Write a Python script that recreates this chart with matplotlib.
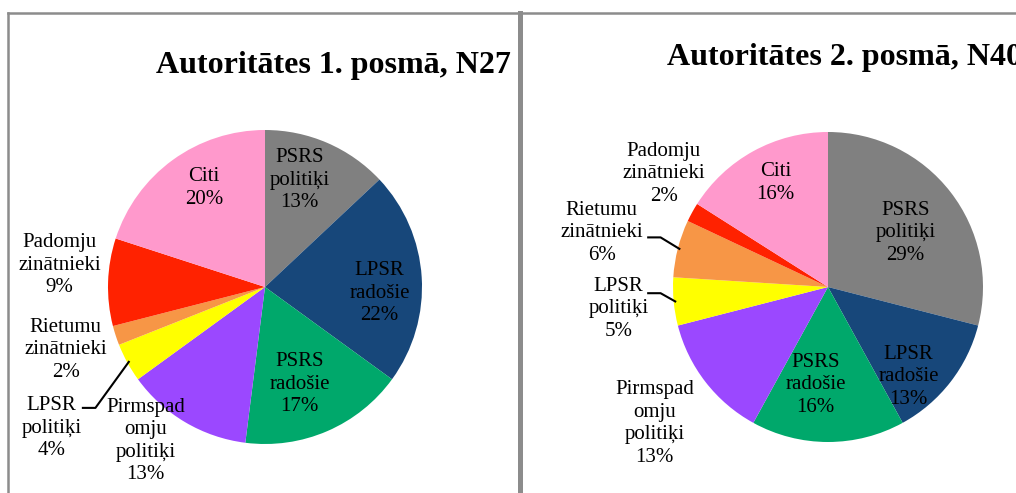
import numpy as np
import matplotlib.pyplot as plt

# data
categories = ["PSRS\npolitiķi", "LPSR\nradošie", "PSRS\nradošie", "Pirmspad\nomju\npolitiķi",
              "LPSR\npolitiķi", "Rietumu\nzinātnieki", "Padomju\nzinātnieki", "Citi"]
posms1 = [13, 22, 17, 13, 4, 2, 9, 20]
posms2 = [29, 13, 16, 13, 5, 6, 2, 16]
titles = ["Autoritātes 1. posmā, N27", "Autoritātes 2. posmā, N40"]
colors = ["#808080", "#17477a", "#00a86b", "#9b48ff",
          "#ffff00", "#f79646", "#ff2200", "#ff99cc"]

W, H = 1016, 493

# label positions in units of pie radius
label_pos1 = [(0.22, 0.68), (0.73, -0.04), (0.22, -0.62), (-0.76, -0.98),
              (-1.36, -0.90), (-1.27, -0.40), (-1.31, 0.14), (-0.39, 0.63)]
label_pos2 = [(0.50, 0.35), (0.52, -0.58), (-0.08, -0.63), (-1.12, -0.88),
              (-1.35, -0.14), (-1.46, 0.35), (-1.06, 0.73), (-0.34, 0.67)]
# leader lines: slice index -> start point (radius units)
leaders1 = {4: (-1.16, -0.77)}
leaders2 = {5: (-1.16, 0.32), 4: (-1.16, -0.04)}

plt.rcParams['font.family'] = ['Liberation Serif', 'DejaVu Serif']

fig = plt.figure(figsize=(W / 100, H / 100), dpi=100)
ax = fig.add_axes([0, 0, 1, 1])


def draw_pie(values, cx, cy, r, label_pos, leaders):
    cy = H - cy
    wedges, _ = ax.pie(values, colors=colors, startangle=90, counterclock=False,
                       center=(cx, cy), radius=r, wedgeprops=dict(linewidth=0))
    for name, v, (dx, dy) in zip(categories, values, label_pos):
        ax.text(cx + dx * r, cy + dy * r, f"{name}\n{v}%", ha='center', va='center',
                fontsize=15, linespacing=1.25, color='black')
    for i, (sx, sy) in leaders.items():
        w = wedges[i]
        mid = np.deg2rad((w.theta1 + w.theta2) / 2)
        ex, ey = np.cos(mid) * 0.99, np.sin(mid) * 0.99
        xs = [cx + sx * r, cx + (sx + 0.08) * r, cx + ex * r]
        ys = [cy + sy * r, cy + sy * r, cy + ey * r]
        ax.plot(xs, ys, color='black', lw=1.5)


draw_pie(posms1, 265, 287, 157, label_pos1, leaders1)
draw_pie(posms2, 828, 287, 155, label_pos2, leaders2)

# second title runs past the right edge, as in the source image
ax.text(333, H - 73, titles[0], ha='center', va='baseline', fontsize=23, fontweight='bold')
ax.text(667, H - 65, titles[1], ha='left', va='baseline', fontsize=23, fontweight='bold')

# panel borders
border = '#8c8c8c'
ax.plot([8, W], [H - 13, H - 13], color=border, lw=1.8)
ax.plot([8, 8], [H - 13, 0], color=border, lw=1.8)
ax.plot([520, 520], [H - 13, 0], color=border, lw=3.6)

ax.set_xlim(0, W)
ax.set_ylim(0, H)
ax.axis('off')

fig.savefig('out.png', dpi=100)
